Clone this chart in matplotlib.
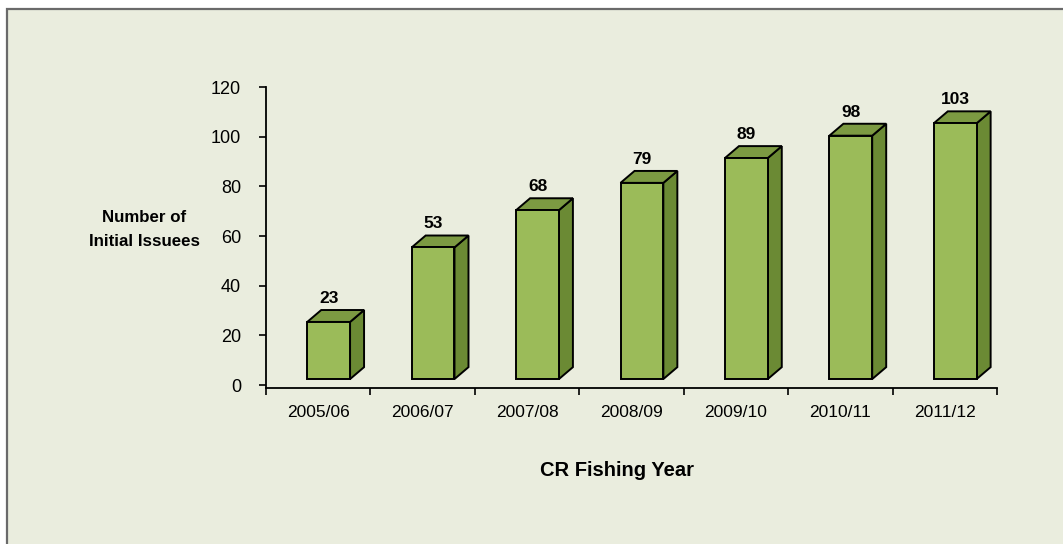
import matplotlib.pyplot as plt
from matplotlib.patches import Polygon, Rectangle

plt.rcParams['font.family'] = ['Liberation Sans', 'DejaVu Sans']

years = ["2005/06", "2006/07", "2007/08", "2008/09", "2009/10", "2010/11", "2011/12"]
issuees = [23, 53, 68, 79, 89, 98, 103]
yticks = [0, 20, 40, 60, 80, 100, 120]

# box look (in data units)
front_w = 0.41
left_off = -0.105
dx = 0.134
dy = 4.8
lift = 2.4

fig = plt.figure(figsize=(10.63, 5.44), dpi=100)
fig.patch.set_facecolor('white')
# panel background with border
fig.patches.append(Rectangle((7/1063, -0.05), 1.1, 1 - 9/544 + 0.05,
                             transform=fig.transFigure, facecolor='#EAEDDE',
                             edgecolor='#6a6a6a', linewidth=1.6, zorder=-5))

ax = fig.add_axes([266/1063, (544-388)/544, 731/1063, 301/544])
ax.set_facecolor('none')
ax.set_xlim(0, len(years))
ax.set_ylim(-1.2, 120)

for i, v in enumerate(issuees):
    x0 = i + 0.5 + left_off
    x1 = x0 + front_w
    y0 = lift
    y1 = v + lift
    side = Polygon([(x1, y0), (x1 + dx, y0 + dy), (x1 + dx, y1 + dy), (x1, y1)],
                   facecolor='#6B8A34', edgecolor='black', linewidth=1.4, zorder=3)
    top = Polygon([(x0, y1), (x0 + dx, y1 + dy), (x1 + dx, y1 + dy), (x1, y1)],
                  facecolor='#7C9A42', edgecolor='black', linewidth=1.4, zorder=3)
    front = Polygon([(x0, y0), (x1, y0), (x1, y1), (x0, y1)],
                    facecolor='#9BBB59', edgecolor='black', linewidth=1.4, zorder=4)
    ax.add_patch(side)
    ax.add_patch(top)
    ax.add_patch(front)
    ax.text((x0 + x1) / 2, y1 + 9.5, str(v), ha='center', va='center',
            fontsize=12.5, fontweight='bold', zorder=5)

ax.spines['top'].set_visible(False)
ax.spines['right'].set_visible(False)
ax.spines['left'].set_linewidth(1.3)
ax.spines['bottom'].set_linewidth(1.3)

ax.set_yticks(yticks)
ax.tick_params(axis='y', length=5, width=1.2, pad=13, labelsize=13)
ax.set_xticks(range(len(years) + 1))
ax.set_xticklabels([])
ax.tick_params(axis='x', which='major', length=5, width=1.2)
ax.set_xticks([i + 0.5 for i in range(len(years))], minor=True)
ax.set_xticklabels(years, minor=True)
ax.tick_params(axis='x', which='minor', length=0, pad=12, labelsize=12.5)

fig.text(144.5/1063, 1 - 229.5/544, "Number of\nInitial Issuees", ha='center',
         va='center', fontsize=12.2, fontweight='bold', linespacing=1.75)
fig.text(617/1063, 1 - 471/544, "CR Fishing Year", ha='center', va='center',
         fontsize=14.5, fontweight='bold')

plt.savefig('out.png', dpi=100)
